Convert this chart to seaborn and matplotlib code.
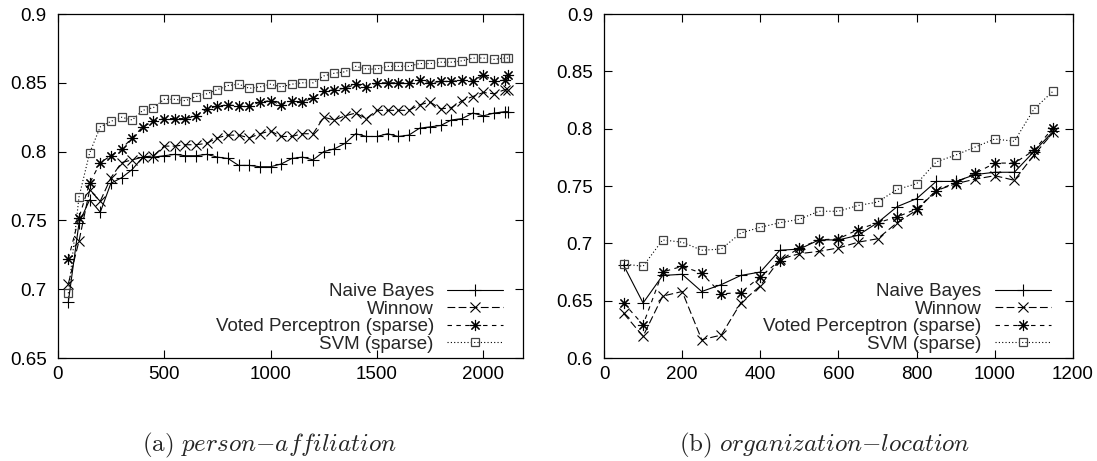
import matplotlib
matplotlib.use("Agg")
import matplotlib.pyplot as plt
import seaborn as sns

# данные
sizes_a = [50, 100, 150, 200, 250, 300, 350, 400, 450, 500, 550, 600, 650, 700, 750,
           800, 850, 900, 950, 1000, 1050, 1100, 1150, 1200, 1250, 1300, 1350, 1400,
           1450, 1500, 1550, 1600, 1650, 1700, 1750, 1800, 1850, 1900, 1950, 2000,
           2050, 2100, 2115]
nb_a = [0.691, 0.748, 0.765, 0.756, 0.777, 0.781, 0.787, 0.796, 0.796, 0.797,
        0.798, 0.797, 0.797, 0.798, 0.796, 0.795, 0.790, 0.790, 0.789, 0.789,
        0.791, 0.795, 0.796, 0.794, 0.800, 0.802, 0.806, 0.813, 0.811, 0.811,
        0.813, 0.811, 0.812, 0.817, 0.818, 0.819, 0.823, 0.824, 0.828, 0.826,
        0.828, 0.829, 0.829]
winnow_a = [0.704, 0.735, 0.772, 0.764, 0.781, 0.792, 0.794, 0.796, 0.797, 0.804,
            0.804, 0.805, 0.805, 0.806, 0.810, 0.812, 0.812, 0.810, 0.813, 0.815,
            0.811, 0.811, 0.813, 0.813, 0.825, 0.823, 0.826, 0.828, 0.824, 0.830,
            0.830, 0.830, 0.830, 0.834, 0.836, 0.831, 0.832, 0.837, 0.840, 0.843,
            0.842, 0.845, 0.845]
voted_a = [0.722, 0.752, 0.777, 0.792, 0.797, 0.802, 0.810, 0.818, 0.822, 0.824,
           0.824, 0.824, 0.826, 0.831, 0.833, 0.834, 0.833, 0.833, 0.836, 0.837,
           0.834, 0.837, 0.836, 0.839, 0.844, 0.845, 0.846, 0.849, 0.847, 0.850,
           0.850, 0.850, 0.850, 0.852, 0.850, 0.851, 0.851, 0.852, 0.851, 0.856,
           0.851, 0.852, 0.856]
svm_a = [0.697, 0.767, 0.799, 0.818, 0.822, 0.825, 0.823, 0.830, 0.832, 0.838,
         0.838, 0.837, 0.840, 0.842, 0.845, 0.848, 0.849, 0.846, 0.847, 0.849,
         0.847, 0.849, 0.850, 0.850, 0.855, 0.857, 0.858, 0.862, 0.860, 0.860,
         0.862, 0.862, 0.862, 0.864, 0.864, 0.865, 0.865, 0.866, 0.868, 0.868,
         0.867, 0.868, 0.868]

sizes_b = [50, 100, 150, 200, 250, 300, 350, 400, 450, 500, 550, 600, 650, 700,
           750, 800, 850, 900, 950, 1000, 1050, 1100, 1150]
nb_b = [0.681, 0.648, 0.672, 0.673, 0.658, 0.664, 0.672, 0.675, 0.694, 0.695,
        0.703, 0.703, 0.707, 0.718, 0.732, 0.739, 0.754, 0.754, 0.760, 0.762,
        0.762, 0.780, 0.798]
winnow_b = [0.639, 0.619, 0.654, 0.658, 0.616, 0.620, 0.648, 0.663, 0.686, 0.691,
            0.693, 0.696, 0.701, 0.704, 0.718, 0.729, 0.746, 0.752, 0.756, 0.759,
            0.755, 0.777, 0.797]
voted_b = [0.648, 0.629, 0.675, 0.680, 0.674, 0.656, 0.657, 0.671, 0.685, 0.696,
           0.703, 0.704, 0.712, 0.718, 0.723, 0.730, 0.746, 0.753, 0.761, 0.770,
           0.770, 0.781, 0.801]
svm_b = [0.682, 0.680, 0.703, 0.701, 0.694, 0.695, 0.709, 0.714, 0.718, 0.721,
         0.728, 0.728, 0.733, 0.736, 0.747, 0.752, 0.771, 0.777, 0.784, 0.791,
         0.789, 0.817, 0.833]

labels = ["Naive Bayes", "Winnow", "Voted Perceptron (sparse)", "SVM (sparse)"]
xticks_a = [0, 500, 1000, 1500, 2000]
xticks_b = [0, 200, 400, 600, 800, 1000, 1200]
yticks_a = [0.65, 0.7, 0.75, 0.8, 0.85, 0.9]
ytick_labels_a = ["0.65", "0.7", "0.75", "0.8", "0.85", "0.9"]
yticks_b = [0.6, 0.65, 0.7, 0.75, 0.8, 0.85, 0.9]
ytick_labels_b = ["0.6", "0.65", "0.7", "0.75", "0.8", "0.85", "0.9"]
captions = [r"$\mathrm{(a)}\ \mathit{person{-}affiliation}$",
            r"$\mathrm{(b)}\ \mathit{organization{-}location}$"]

sns.set_style("ticks")
plt.rcParams["font.family"] = ["Liberation Sans", "DejaVu Sans"]
plt.rcParams["mathtext.fontset"] = "cm"

# стили линий как в gnuplot (seaborn по умолчанию красит края маркеров в белый)
styles = [
    dict(marker="+", linestyle="-", ms=8, mew=0.8, mec="black"),
    dict(marker="x", linestyle=(0, (7, 3)), ms=6.5, mew=0.8, mec="black"),
    dict(marker=(8, 2, 0), linestyle=(0, (4, 4)), ms=8, mew=0.8, mec="black"),
    dict(marker="s", linestyle=(0, (1, 2)), ms=5.5, mew=0.9, mfc="none", mec="#444444"),
]


def draw_panel(ax, xs, series, xlim, xticks, yticks, yticklabels, legend_x):
    for vals, lab, st in zip(series, labels, styles):
        sns.lineplot(x=xs, y=vals, ax=ax, color="black", lw=0.8, label=lab,
                     errorbar=None, **st)
    ax.set_xlim(*xlim)
    ax.set_ylim(yticks[0], yticks[-1])
    ax.set_xticks(xticks)
    ax.set_xticklabels([str(t) for t in xticks])
    ax.set_yticks(yticks)
    ax.set_yticklabels(yticklabels)
    ax.tick_params(direction="in", length=6, width=0.8, top=True, right=True,
                   labelsize=13.5, color="black", labelcolor="black")
    ax.tick_params(axis="x", pad=6)
    ax.tick_params(axis="y", pad=8)
    for sp in ax.spines.values():
        sp.set_visible(True)
        sp.set_linewidth(0.9)
        sp.set_color("black")
    ax.set_xlabel("")
    ax.set_ylabel("")
    ax.legend(loc="lower right", bbox_to_anchor=(legend_x, 0.015), frameon=False,
              markerfirst=False, numpoints=1, handlelength=3.0, handletextpad=0.7,
              labelspacing=0.02, borderpad=0, borderaxespad=0, fontsize=13.5)


fig = plt.figure(figsize=(10.97, 4.61), dpi=100)
ax1 = fig.add_axes([0.0526, 0.2234, 0.4243, 0.7462])
ax2 = fig.add_axes([0.5506, 0.2234, 0.4275, 0.7462])

draw_panel(ax1, sizes_a, [nb_a, winnow_a, voted_a, svm_a], (0, 2187),
           xticks_a, yticks_a, ytick_labels_a, 0.957)
draw_panel(ax2, sizes_b, [nb_b, winnow_b, voted_b, svm_b], (0, 1200),
           xticks_b, yticks_b, ytick_labels_b, 0.953)

fig.text(0.2455, 0.033, captions[0], ha="center", va="center", fontsize=18)
fig.text(0.752, 0.033, captions[1], ha="center", va="center", fontsize=18)

fig.savefig("out.png", dpi=100)
